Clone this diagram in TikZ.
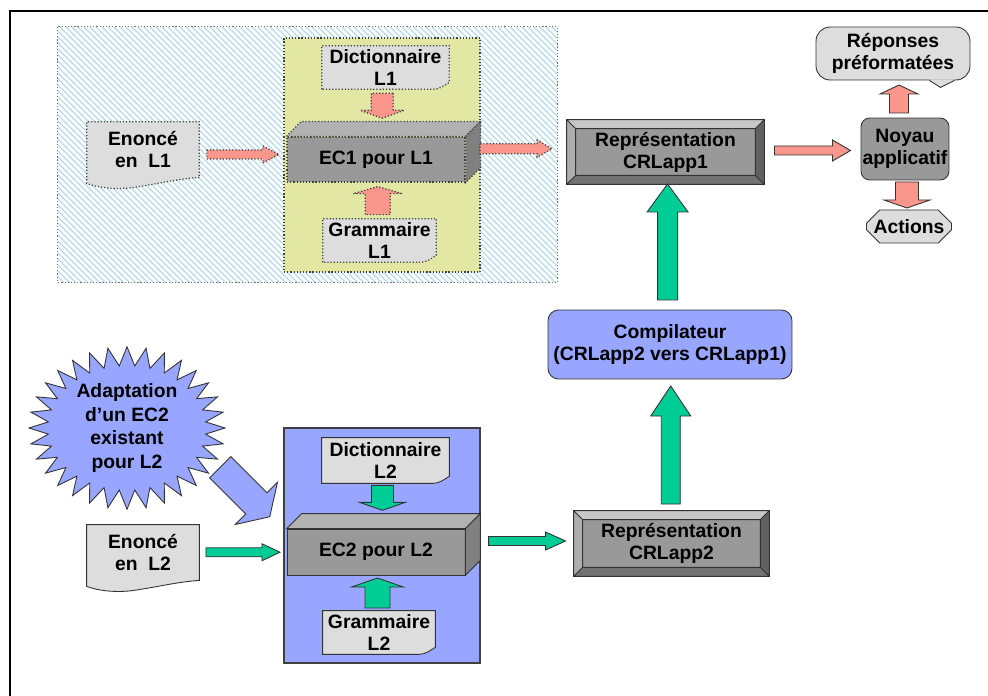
\documentclass[tikz,border=0pt]{standalone}
\usepackage{fontspec}
\setmainfont{Liberation Sans}
\usetikzlibrary{shapes.symbols,shapes.misc,backgrounds}

\definecolor{rose}{RGB}{250,150,140}
\definecolor{vert}{RGB}{0,204,150}
\definecolor{bleu}{RGB}{153,166,255}
\definecolor{jaune}{RGB}{226,232,164}
\definecolor{papier}{RGB}{221,221,221}
\definecolor{gris}{RGB}{153,153,153}
\definecolor{hachure}{RGB}{182,218,230}

\tikzset{
  pics/fleche/.style n args={4}{code={
    \filldraw ({-#1/2},{-#2}) -- ({#1/2-#4},{-#2}) -- ({#1/2-#4},{-#3}) -- ({#1/2},0)
      -- ({#1/2-#4},{#3}) -- ({#1/2-#4},{#2}) -- ({-#1/2},{#2}) -- cycle;}}
}

\begin{document}
\begin{tikzpicture}[x=0.02cm, y=-0.02cm,
  every node/.style={font=\bfseries\fontsize{11}{12.5}\selectfont, align=center, inner sep=0pt},
  pointille/.style={draw=black!75, dash pattern=on 0.7pt off 1.1pt, line width=0.7pt},
  trait/.style={draw=black!80, line width=0.5pt},
  boite/.style 2 args={minimum width=#1, minimum height=#2},
  relief/.style={fill=gris, trait}]
	\useasboundingbox (0,0) rectangle (988,696);
	\draw[line width=1.3pt] (9,11) -- (988,11);
	\draw[line width=1.3pt] (10,11) -- (10,696);

	% partie L1
	\node[boite={2.24cm}{1.1cm}] (enonce1) at (143,149.5) {Enoncé\\en~ L1};
	\node[boite={2.54cm}{0.86cm}] (dict1) at (385.5,67.5) {Dictionnaire\\L1};
	\node[boite={2.26cm}{0.86cm}] (gram1) at (379.5,240.5) {Grammaire\\L1};
	\node[boite={3.56cm}{0.9cm}, fill=gris, pointille] (ec1) at (376,159.5) {EC1 pour L1};
	\filldraw[fill=black!30, pointille] (ec1.north west) -- ++(15,-15) -- ([shift={(15,-15)}]ec1.north east) -- (ec1.north east) -- cycle;
	\filldraw[fill=black!50, pointille] (ec1.north east) -- ++(15,-15) -- ([shift={(15,-15)}]ec1.south east) -- (ec1.south east) -- cycle;

	% application
	\node[boite={3.94cm}{1.28cm}, relief] (rep1) at (665.5,152) {Représentation\\CRLapp1};
	\node[boite={1.76cm}{1.24cm}, relief, rounded corners=5pt] (noyau) at (905,149) {Noyau\\applicatif};
	\node[boite={3.08cm}{1.06cm}, fill=papier, trait, rounded corners=8pt] (reponses) at (893,53.5) {Réponses\\préformatées};
	\fill[papier] ([shift={(-41,-1)}]reponses.south east) -- ++(11,8) -- ([shift={(-16,-1)}]reponses.south east) -- cycle;
	\draw[trait] ([shift={(-41,0)}]reponses.south east) -- ++(11,7) -- ([shift={(-16,0)}]reponses.south east);
	\node[boite={1.64cm}{0.66cm}, chamfered rectangle, chamfered rectangle xsep=4pt, fill=papier, trait] (actions) at (909,226.5) {Actions};
	\node[boite={4.88cm}{1.38cm}, fill=bleu, trait, rounded corners=6pt] (compil) at (670,344.5) {Compilateur\\(CRLapp2 vers CRLapp1)};
	\node[boite={3.9cm}{1.3cm}, relief] (rep2) at (671.5,543.5) {Représentation\\CRLapp2};
	\foreach \r in {rep1,rep2} {
		\fill[black!22] (\r.north west) -- (\r.north east) -- ([shift={(-9,9)}]\r.north east) -- ([shift={(9,9)}]\r.north west) -- cycle;
		\fill[black!32] (\r.north west) -- (\r.south west) -- ([shift={(9,-9)}]\r.south west) -- ([shift={(9,9)}]\r.north west) -- cycle;
		\fill[black!55] (\r.south west) -- (\r.south east) -- ([shift={(-9,-9)}]\r.south east) -- ([shift={(9,-9)}]\r.south west) -- cycle;
		\fill[black!62] (\r.north east) -- (\r.south east) -- ([shift={(-9,-9)}]\r.south east) -- ([shift={(-9,9)}]\r.north east) -- cycle;
		\draw[trait] (\r.north west) rectangle (\r.south east) ([shift={(9,9)}]\r.north west) rectangle ([shift={(-9,-9)}]\r.south east)
			(\r.north west) -- ++(9,9) (\r.north east) -- ++(-9,9) (\r.south west) -- ++(9,-9) (\r.south east) -- ++(-9,-9);
	}

	% partie L2
	\node[boite={2.24cm}{1.1cm}] (enonce2) at (143,552.5) {Enoncé\\en~ L2};
	\node[boite={2.54cm}{0.9cm}] (dict2) at (385.5,460.5) {Dictionnaire\\L2};
	\node[boite={2.24cm}{0.86cm}] (gram2) at (379,632.5) {Grammaire\\L2};
	\node[boite={3.56cm}{0.92cm}, relief] (ec2) at (376,552) {EC2 pour L2};
	\filldraw[fill=black!30, trait] (ec2.north west) -- ++(15,-15) -- ([shift={(15,-15)}]ec2.north east) -- (ec2.north east) -- cycle;
	\filldraw[fill=black!50, trait] (ec2.north east) -- ++(15,-15) -- ([shift={(15,-15)}]ec2.south east) -- (ec2.south east) -- cycle;
	\node[starburst, starburst points=32, starburst point height=0.38cm, random starburst=0, boite={3.92cm}{3.12cm},
		fill=bleu, trait, font=\bfseries\fontsize{11}{13.3}\selectfont] (adapt) at (127,428) {Adaptation\\d’un EC2\\existant\\pour L2};

	% fleches
	\path (enonce1.east) -- (ec1.west) pic[midway, fill=rose, pointille] {fleche={72}{4.5}{8.5}{16}};
	\path (dict1.south) -- (ec1.north) pic[pos=0.35, rotate=-90, fill=rose, pointille] {fleche={25}{11}{22}{8}};
	\path (gram1.north) -- (ec1.south) pic[midway, rotate=90, fill=rose, pointille] {fleche={28}{12.5}{24.5}{7}};
	\path (ec1.east) -- (rep1.west) pic[midway, yshift=4pt, fill=rose, pointille] {fleche={72}{5}{8.5}{15}};
	\path (rep1.east) -- (noyau.west) pic[midway, fill=rose, trait] {fleche={76}{4.5}{10.5}{18}};
	\path (noyau.north) -- (reponses.south) pic[midway, rotate=90, fill=rose, trait] {fleche={28}{9.5}{19}{9}};
	\path (noyau.south) -- (actions.north) pic[midway, rotate=-90, fill=rose, trait] {fleche={26}{11.5}{23}{8}};
	\path (compil.north) -- (rep1.south) pic[pos=0.54, rotate=90, fill=vert, trait] {fleche={116}{10}{20.5}{28}};
	\path (rep2.north) -- (compil.south) pic[midway, rotate=90, fill=vert, trait] {fleche={118}{9.5}{20}{30}};
	\path (enonce2.east) -- (ec2.west) pic[midway, fill=vert, trait] {fleche={74}{4.5}{8.5}{18}};
	\path (ec2.east) -- (rep2.west) pic[pos=0.57, yshift=3.5pt, fill=vert, trait] {fleche={77}{4.5}{9}{20}};
	\path (dict2.south) -- (ec2.north) pic[pos=0.32, rotate=-90, fill=vert, trait] {fleche={25}{11}{23}{8}};
	\path (gram2.north) -- (ec2.south) pic[midway, rotate=90, fill=vert, trait] {fleche={30}{12.5}{26}{9}};
	\coordinate (adaptcible) at (245,492);
	\path (adaptcible) pic[rotate=-45, fill=bleu, trait] {fleche={70}{15}{30}{19}};

	% fonds et documents
	\begin{scope}[on background layer]
		\node[boite={9.98cm}{5.1cm}] (zone1) at (307.5,154.5) {};
		\begin{scope}
			\clip (zone1.north west) rectangle (zone1.south east);
			\foreach \i in {-210,-204,...,560}
				\draw[hachure, line width=0.7pt] (\i,27) -- ++(256,256);
		\end{scope}
		\draw[pointille, draw=black!55] (zone1.north west) rectangle (zone1.south east);
		\node[boite={3.92cm}{4.68cm}, fill=jaune, pointille] (cadre1) at (382,155) {};
		\node[boite={3.92cm}{4.7cm}, fill=bleu, draw=black!75, line width=0.8pt] (cadre2) at (382,545.5) {};
		\filldraw[fill=papier, pointille] (enonce1.south east) .. controls +(-24,2) and +(20,-3) .. ([shift={(-59,9)}]enonce1.south east)
			.. controls +(-20,4) and +(13,5) .. ([shift={(0,6)}]enonce1.south west) -- (enonce1.north west) -- (enonce1.north east) -- cycle;
		\filldraw[fill=papier, trait] (enonce2.south east) .. controls +(-24,2) and +(20,-3) .. ([shift={(-59,9)}]enonce2.south east)
			.. controls +(-20,4) and +(13,5) .. ([shift={(0,6)}]enonce2.south west) -- (enonce2.north west) -- (enonce2.north east) -- cycle;
		\filldraw[fill=papier, pointille] (dict1.south west) -- (dict1.north west) -- (dict1.north east) -- ([shift={(0,-7)}]dict1.south east)
			.. controls +(-5,3) and +(6,0) .. ([shift={(-16,0)}]dict1.south east) -- cycle;
		\filldraw[fill=papier, pointille] (gram1.south west) -- (gram1.north west) -- (gram1.north east) -- ([shift={(0,-7)}]gram1.south east)
			.. controls +(-5,3) and +(6,0) .. ([shift={(-16,0)}]gram1.south east) -- cycle;
		\filldraw[fill=papier, trait] (dict2.south west) -- (dict2.north west) -- (dict2.north east) -- ([shift={(0,-7)}]dict2.south east)
			.. controls +(-5,3) and +(6,0) .. ([shift={(-16,0)}]dict2.south east) -- cycle;
		\filldraw[fill=papier, trait] (gram2.south west) -- (gram2.north west) -- (gram2.north east) -- ([shift={(0,-7)}]gram2.south east)
			.. controls +(-5,3) and +(6,0) .. ([shift={(-16,0)}]gram2.south east) -- cycle;
	\end{scope}
\end{tikzpicture}
\end{document}
